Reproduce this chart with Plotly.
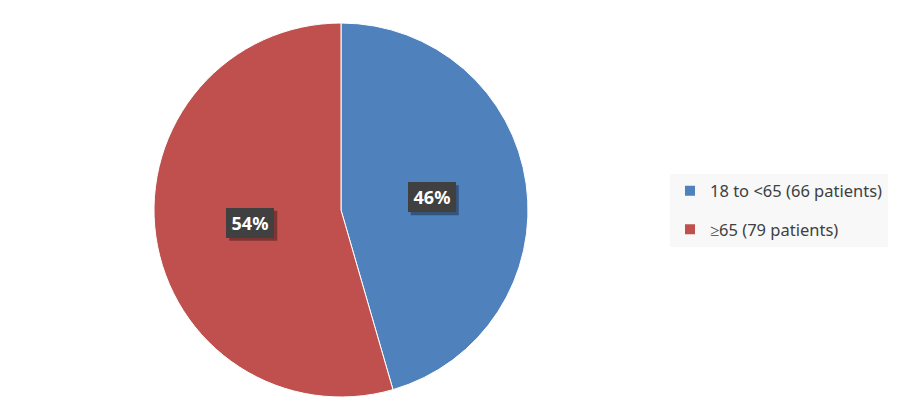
import math
import plotly.graph_objects as go

categories = ["18 to <65 (66 patients)", "≥65 (79 patients)"]
patients = [66, 79]
colors = ["#4F81BD", "#C0504D"]

W, H = 900, 420
cx_px, cy_px, r_px = 341, 210, 187

dom_x = [(cx_px - r_px) / W, (cx_px + r_px) / W]
dom_y = [(H - cy_px - r_px) / H, (H - cy_px + r_px) / H]

fig = go.Figure()
fig.add_trace(go.Pie(
    labels=categories, values=patients, sort=False, direction="clockwise",
    rotation=0, marker=dict(colors=colors, line=dict(color="white", width=1)),
    textinfo="none", hoverinfo="label+percent", showlegend=False,
    domain=dict(x=dom_x, y=dom_y),
))

for i, (c, col) in enumerate(zip(categories, colors)):
    fig.add_trace(go.Scatter(
        x=[None], y=[None], mode="markers", name=c, legendgroup=f"g{i}",
        marker=dict(symbol="square", size=10, color=col),
    ))

total = sum(patients)
cum = 0
annotations = []
shapes = []
bw, bh = 48, 30
for v in patients:
    mid = (cum + v / 2) / total * 2 * math.pi
    cum += v
    lx = cx_px + 0.49 * r_px * math.sin(mid)
    ly = cy_px - 0.49 * r_px * math.cos(mid)
    pct = f"{round(v / total * 100)}%"
    # shadow
    shapes.append(dict(
        type="rect", xref="paper", yref="paper", layer="above",
        x0=(lx - bw / 2 + 3) / W, x1=(lx + bw / 2 + 3) / W,
        y0=(H - ly - bh / 2 - 3) / H, y1=(H - ly + bh / 2 - 3) / H,
        fillcolor="rgba(0,0,0,0.35)", line=dict(width=0),
    ))
    annotations.append(dict(
        x=lx / W, y=(H - ly) / H, xref="paper", yref="paper",
        text=f"<b>{pct}</b>", showarrow=False,
        font=dict(family="Noto Sans", size=18, color="white"),
        bgcolor="#404040", borderpad=5, borderwidth=0, width=bw - 10, height=bh - 10,
        xanchor="center", yanchor="middle",
    ))

fig.update_layout(
    width=W, height=H, margin=dict(l=0, r=0, t=0, b=0),
    paper_bgcolor="white", plot_bgcolor="white",
    xaxis=dict(visible=False), yaxis=dict(visible=False),
    annotations=annotations, shapes=shapes,
    legend=dict(
        x=670 / W, y=0.5, xanchor="left", yanchor="middle",
        bgcolor="#F8F8F8", borderwidth=0, tracegroupgap=14,
        font=dict(family="Noto Sans", size=16.5, color="#404040"),
        itemwidth=30,
    ),
)

fig.write_html("out.html", config={"displayModeBar": False},
               post_script="document.body.style.margin='0';")
